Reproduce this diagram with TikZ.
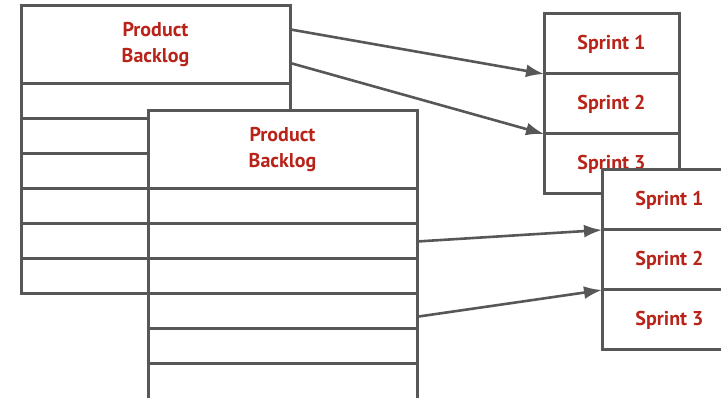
\documentclass[tikz,border=0pt]{standalone}
\usepackage{fontspec}
\setmainfont{PT Sans}
\usetikzlibrary{arrows.meta,calc}
\definecolor{linegray}{HTML}{575757}
\definecolor{backlogred}{HTML}{B8241A}
\tikzset{
  cell/.style={draw=linegray, fill=white, line width=3pt, inner sep=0pt, outer sep=0pt,
    anchor=north west, minimum width=269pt, minimum height=35pt},
  head/.style={cell, minimum height=78pt, align=center, text=backlogred,
    font=\bfseries\fontsize{20}{26}\selectfont},
  sprintcell/.style={cell, minimum width=135pt, minimum height=60pt, text=backlogred,
    font=\bfseries\fontsize{20}{24}\selectfont},
  flow/.style={draw=linegray, line width=2.6pt, -{Latex[length=18pt,width=13pt]}}
}
\begin{document}
\begin{tikzpicture}[x=1pt,y=-1pt]
  \useasboundingbox (0,0) rectangle (721,398);
  % first backlog and its sprints
  \node[head] (pbA0) at (21,6) {Product\\Backlog};
  \foreach \i [remember=\i as \p (initially 0)] in {1,...,6}
    \node[cell] (pbA\i) at (pbA\p.south west) {};
  \node[sprintcell] (spA1) at (544,14) {Sprint 1};
  \foreach \i [remember=\i as \p (initially 1)] in {2,3}
    \node[sprintcell] (spA\i) at (spA\p.south west) {Sprint \i};
  \draw[flow] ($(pbA0.north east)!0.3!(pbA0.south east)$) -- (spA1.south west);
  \draw[flow] ($(pbA0.north east)!0.73!(pbA0.south east)$) -- (spA2.south west);
  % second backlog on top
  \node[head] (pbB0) at (148,111) {Product\\Backlog};
  \foreach \i [remember=\i as \p (initially 0)] in {1,...,6}
    \node[cell] (pbB\i) at (pbB\p.south west) {};
  \node[sprintcell] (spB1) at (602,170) {Sprint 1};
  \foreach \i [remember=\i as \p (initially 1)] in {2,3}
    \node[sprintcell] (spB\i) at (spB\p.south west) {Sprint \i};
  \draw[flow] (pbB2.east) -- (spB1.south west);
  \draw[flow] ($(pbB4.north east)!0.65!(pbB4.south east)$) -- (spB2.south west);
\end{tikzpicture}
\end{document}
